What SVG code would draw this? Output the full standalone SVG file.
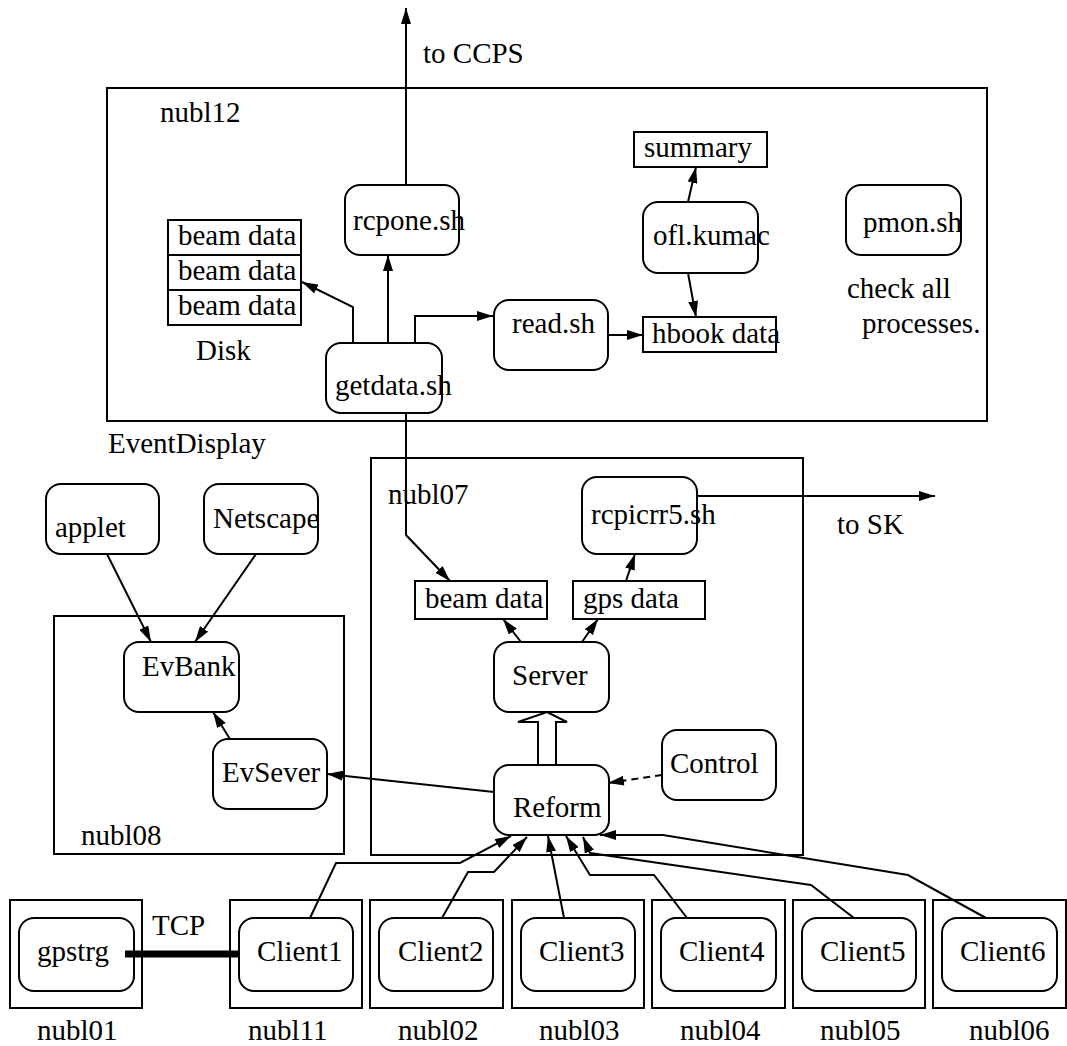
<svg xmlns="http://www.w3.org/2000/svg" width="1067" height="1046" viewBox="0 0 1067 1046">
<style>
text{font-family:'Liberation Serif','DejaVu Serif',serif;font-size:29px;fill:#000}
.box{fill:none;stroke:#000;stroke-width:2}
.rbox{fill:#fff;stroke:#000;stroke-width:2}
.ln{fill:none;stroke:#000}
.arr{fill:none;stroke:#000;stroke-width:2;marker-end:url(#ah)}
</style>
<defs>
<marker id="ah" markerUnits="userSpaceOnUse" markerWidth="17" markerHeight="10" refX="16" refY="5" orient="auto">
<path d="M0,0 L16,5 L0,10 z" fill="#000"/>
</marker>
</defs>
<rect width="1067" height="1046" fill="#fff"/>
<g font-family="'Liberation Serif', 'DejaVu Serif', serif">

<g id="hosts">
<rect class="box" x="107" y="88" width="880" height="333"/>
<text x="160" y="122">nubl12</text>
<rect class="box" x="371" y="458" width="432" height="397"/>
<text x="388" y="504">nubl07</text>
<rect class="box" x="54" y="616" width="290" height="238"/>
<text x="81" y="845">nubl08</text>
<text x="108" y="453">EventDisplay</text>
</g>

<g id="connectors">
<path class="arr" d="M406,185 L406,8"/>
<path class="arr" d="M388,343 L388,255"/>
<path class="arr" d="M353,343 L353,307 L302,282"/>
<path class="arr" d="M415,343 L415,316 L493,316"/>
<path class="arr" d="M608,335 L643,335"/>
<path class="arr" d="M688,202 L696,167"/>
<path class="arr" d="M688,273 L696,317"/>
<path class="arr" d="M406,413 L406,535 L450,581"/>
<path class="arr" d="M697,496 L935,496"/>
<path class="arr" d="M626,581 L635,554"/>
<path class="arr" d="M521,642 L503,619"/>
<path class="arr" d="M582,642 L598,619"/>
<path class="arr" d="M107,554 L151,642"/>
<path class="arr" d="M256,554 L195,642"/>
<path class="arr" d="M230,739 L213,712"/>
<path class="arr" d="M494,792 L327,774"/>
<path class="arr" d="M662,775 L608,783" style="stroke-dasharray:7,5"/>
<polygon points="538,765 538,722 518,722 547,712 567,722 556,722 556,765" fill="#fff" stroke="#000" stroke-width="2"/>
<path class="arr" d="M310,918 L336,863 L460,863 L511,836"/>
<path class="arr" d="M442,918 L468,872 L494,872 L527,837"/>
<path class="arr" d="M564,918 L548,836"/>
<path class="arr" d="M687,918 L654,875 L590,875 L566,836"/>
<path class="arr" d="M854,918 L811,885 L590,853 L583,837"/>
<path class="arr" d="M986,918 L908,875 L663,835 L600,835"/>
<path class="ln" d="M125,954 L239,954" style="stroke-width:7"/>
<text x="423" y="63">to CCPS</text>
<text x="837" y="534">to SK</text>
<text x="152" y="935">TCP</text>
</g>

<g id="rcpone"><rect class="rbox" x="345" y="185" width="114" height="70" rx="15"/><text x="353" y="230">rcpone.sh</text></g>
<g id="getdata"><rect class="rbox" x="326" y="343" width="116" height="70" rx="15"/><text x="335" y="395">getdata.sh</text></g>
<g id="readsh"><rect class="rbox" x="494" y="300" width="114" height="70" rx="15"/><text x="512" y="333">read.sh</text></g>
<g id="oflkumac"><rect class="rbox" x="643" y="202" width="115" height="71" rx="15"/><text x="653" y="245">ofl.kumac</text></g>
<g id="pmon"><rect class="rbox" x="846" y="185" width="115" height="70" rx="15"/><text x="863" y="232">pmon.sh</text></g>
<g id="checkall"><text x="847" y="298">check all</text><text x="862" y="333">processes.</text></g>
<g id="summary"><rect class="rbox" x="634" y="132" width="133" height="35"/><text x="644" y="157">summary</text></g>
<g id="hbook"><rect class="box" x="643" y="317" width="133" height="35"/><text x="652" y="343">hbook data</text></g>
<g id="disk">
<rect class="box" x="168" y="220" width="133" height="35"/><text x="178" y="245">beam data</text>
<rect class="box" x="168" y="255" width="133" height="35"/><text x="178" y="280">beam data</text>
<rect class="box" x="168" y="290" width="133" height="35"/><text x="178" y="315">beam data</text>
<text x="196" y="360">Disk</text>
</g>
<g id="rcpicrr5"><rect class="rbox" x="582" y="477" width="115" height="77" rx="15"/><text x="591" y="524">rcpicrr5.sh</text></g>
<g id="beamdata07"><rect class="rbox" x="415" y="581" width="132" height="38"/><text x="425" y="608">beam data</text></g>
<g id="gpsdata"><rect class="rbox" x="573" y="581" width="132" height="38"/><text x="583" y="608">gps data</text></g>
<g id="server"><rect class="rbox" x="494" y="642" width="115" height="70" rx="15"/><text x="512" y="685">Server</text></g>
<g id="reform"><rect class="rbox" x="494" y="765" width="115" height="70" rx="15"/><text x="513" y="817">Reform</text></g>
<g id="control"><rect class="rbox" x="662" y="730" width="114" height="70" rx="15"/><text x="670" y="773">Control</text></g>
<g id="applet"><rect class="rbox" x="46" y="484" width="113" height="70" rx="15"/><text x="55" y="537">applet</text></g>
<g id="netscape"><rect class="rbox" x="204" y="484" width="114" height="70" rx="15"/><text x="213" y="528">Netscape</text></g>
<g id="evbank"><rect class="rbox" x="124" y="642" width="115" height="70" rx="15"/><text x="142" y="676">EvBank</text></g>
<g id="evsever"><rect class="rbox" x="213" y="739" width="114" height="70" rx="15"/><text x="222" y="782">EvSever</text></g>

<g id="nubl01"><rect class="box" x="10" y="900" width="132" height="108"/><rect class="box" x="19" y="918" width="115" height="73" rx="15"/><text x="37" y="961">gpstrg</text><text x="37" y="1040">nubl01</text></g>
<g id="nubl11"><rect class="box" x="230" y="900" width="132" height="108"/><rect class="box" x="239" y="918" width="114" height="73" rx="15"/><text x="257" y="961">Client1</text><text x="248" y="1040">nubl11</text></g>
<g id="nubl02"><rect class="box" x="370" y="900" width="133" height="108"/><rect class="box" x="379" y="918" width="114" height="73" rx="15"/><text x="398" y="961">Client2</text><text x="398" y="1040">nubl02</text></g>
<g id="nubl03"><rect class="box" x="512" y="900" width="132" height="108"/><rect class="box" x="521" y="918" width="114" height="73" rx="15"/><text x="539" y="961">Client3</text><text x="539" y="1040">nubl03</text></g>
<g id="nubl04"><rect class="box" x="652" y="900" width="133" height="108"/><rect class="box" x="661" y="918" width="115" height="73" rx="15"/><text x="679" y="961">Client4</text><text x="680" y="1040">nubl04</text></g>
<g id="nubl05"><rect class="box" x="793" y="900" width="132" height="108"/><rect class="box" x="802" y="918" width="114" height="73" rx="15"/><text x="820" y="961">Client5</text><text x="820" y="1040">nubl05</text></g>
<g id="nubl06"><rect class="box" x="933" y="900" width="133" height="108"/><rect class="box" x="942" y="918" width="115" height="73" rx="15"/><text x="960" y="961">Client6</text><text x="969" y="1040">nubl06</text></g>
</g>
</svg>
